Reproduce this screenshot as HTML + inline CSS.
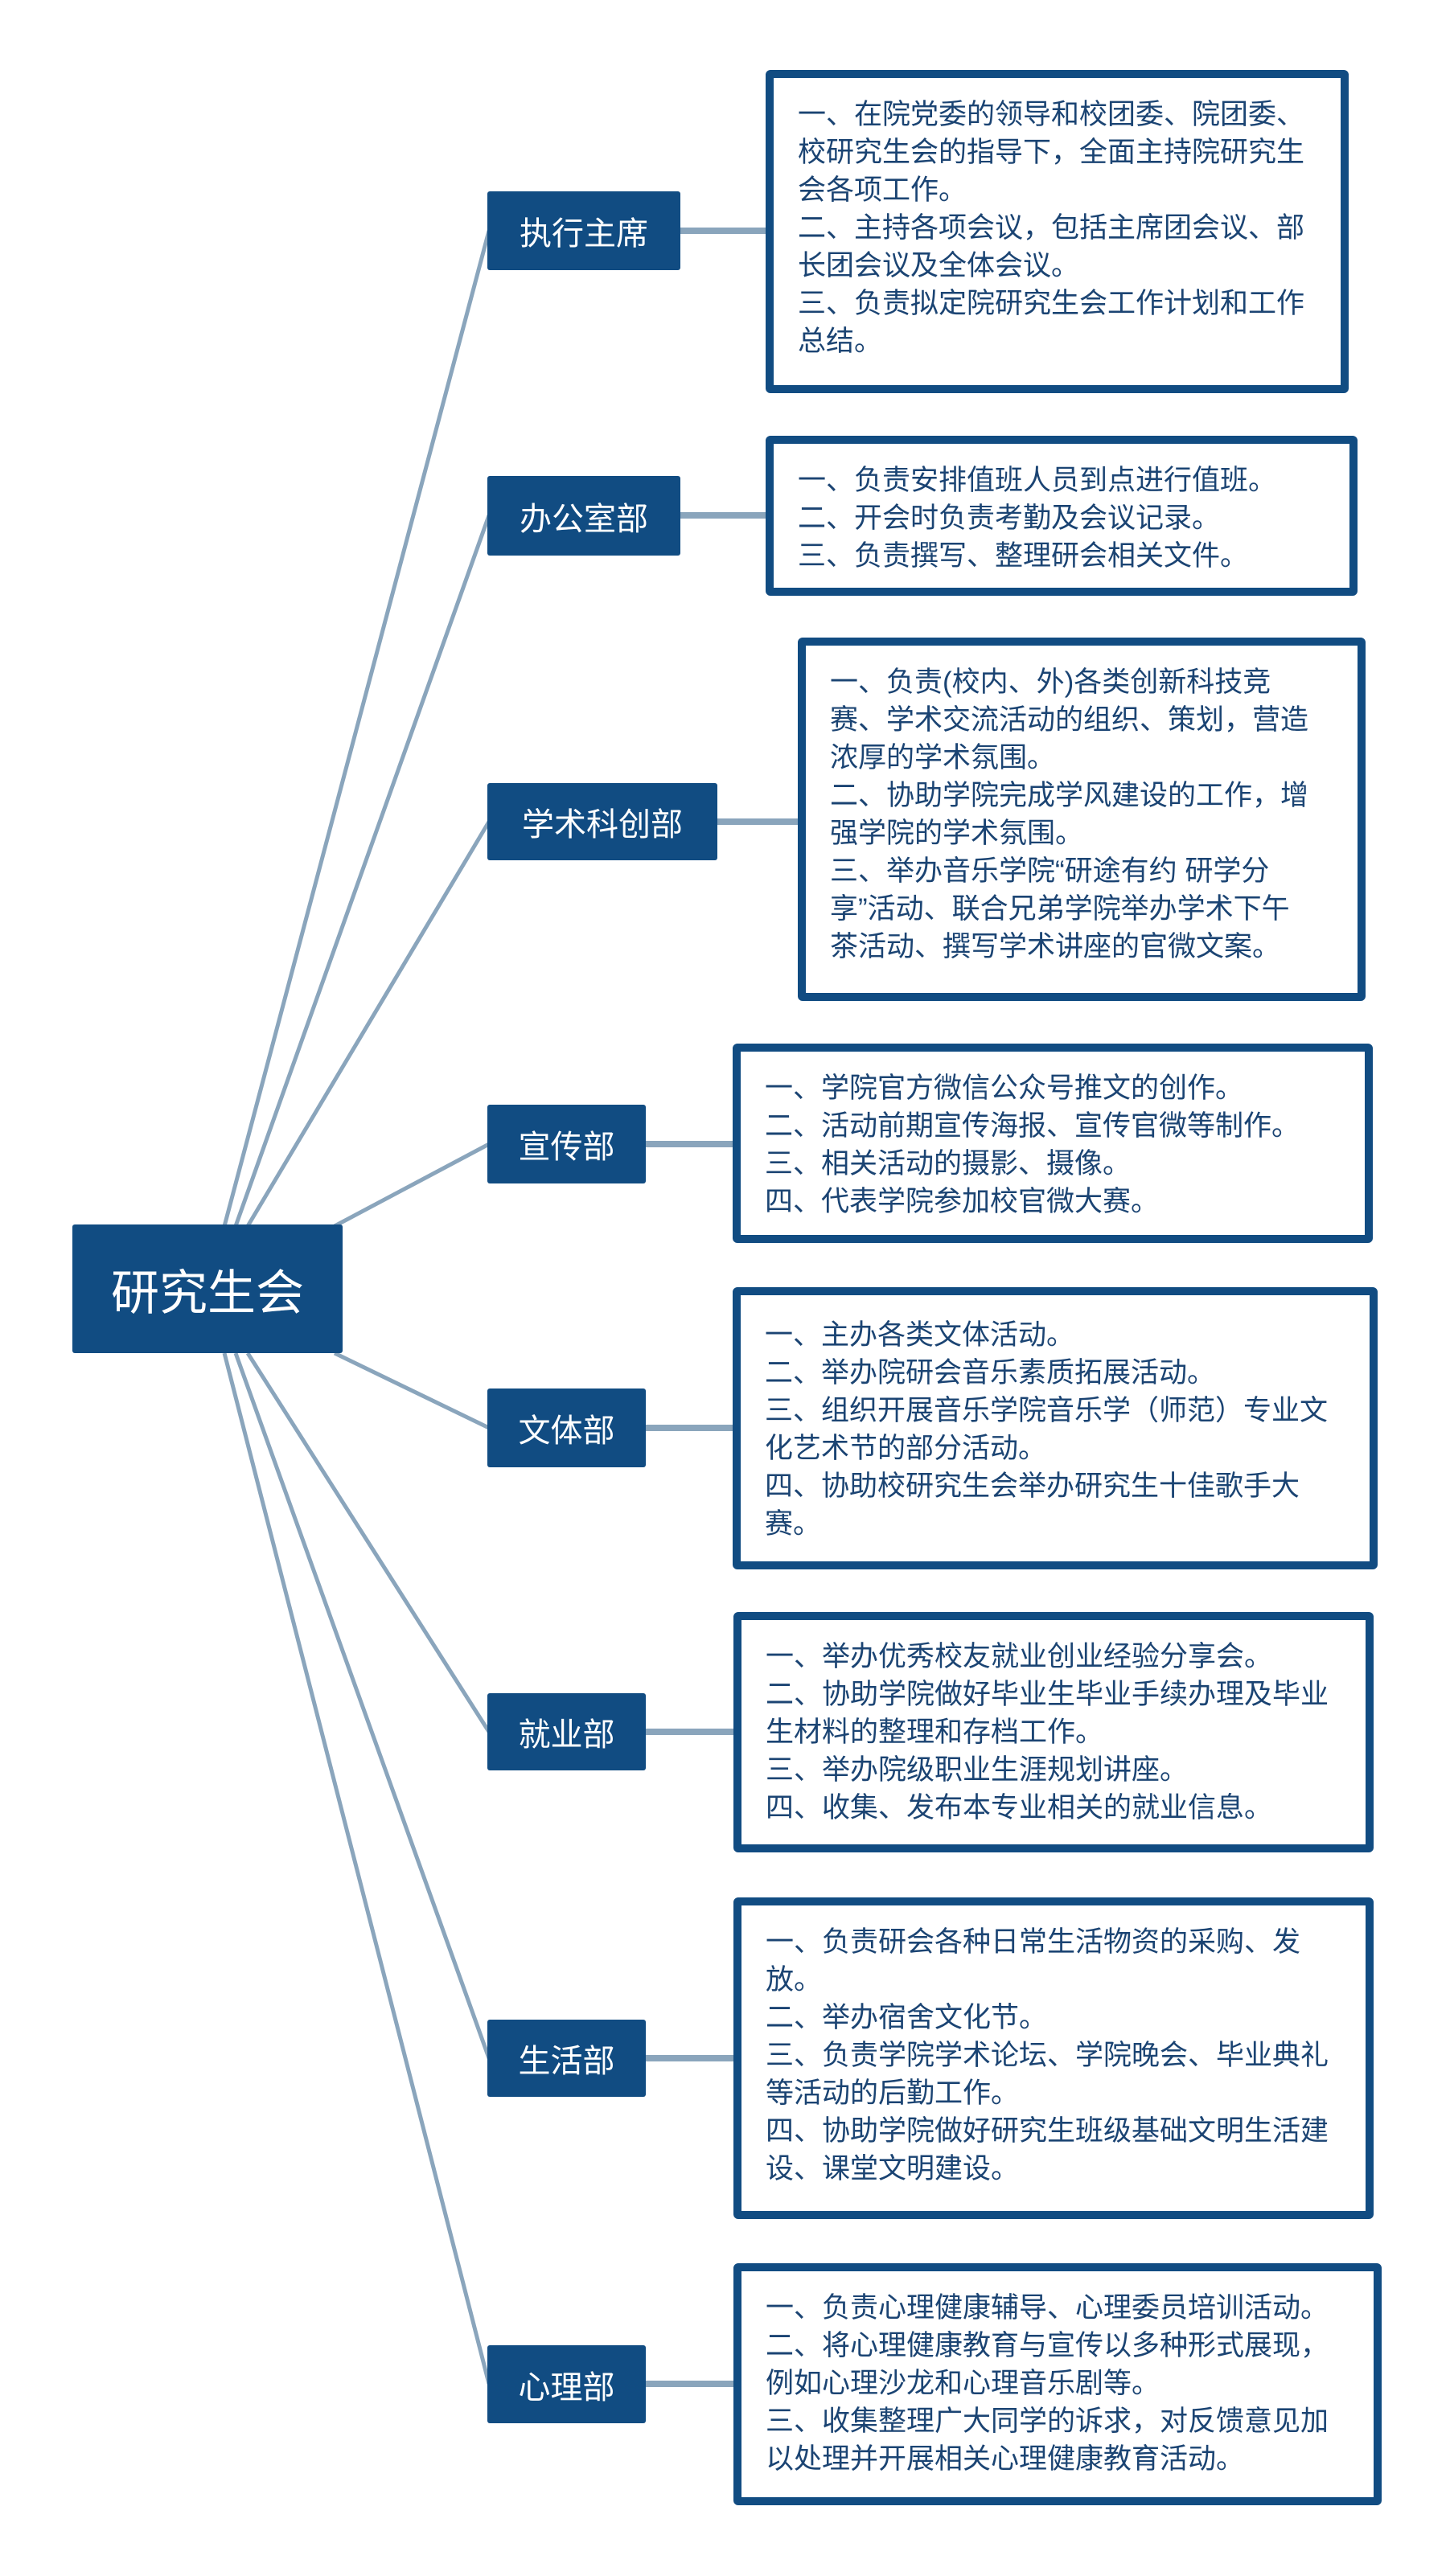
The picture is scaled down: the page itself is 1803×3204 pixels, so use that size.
<!DOCTYPE html>
<html><head><meta charset="utf-8"><style>
body{margin:0;width:1803px;height:3204px;background:#fff;position:relative;overflow:hidden;font-family:"Liberation Sans","Noto Sans CJK SC",sans-serif;}
.n{position:absolute;background:#114c82;color:#fff;display:flex;align-items:center;justify-content:center;font-size:40px;border-radius:3px;}
.b{position:absolute;box-sizing:border-box;border:10px solid #114c82;border-radius:6px;background:#fff;color:#1b4473;font-size:35px;line-height:47px;padding:22px 0 0 30px;white-space:nowrap;}
svg{position:absolute;left:0;top:0;}
</style></head><body>
<svg width="1803" height="3204">
<g stroke="#8aa5bc" stroke-width="5" fill="none">
<line x1="279" y1="1525" x2="608" y2="287"/>
<line x1="293" y1="1525" x2="608" y2="641"/>
<line x1="308" y1="1525" x2="608" y2="1022"/>
<line x1="416" y1="1525" x2="608" y2="1423"/>
<line x1="416" y1="1683" x2="608" y2="1776"/>
<line x1="308" y1="1683" x2="608" y2="2154"/>
<line x1="293" y1="1683" x2="608" y2="2560"/>
<line x1="279" y1="1683" x2="608" y2="2965"/>
</g>
<g stroke="#8aa5bc" stroke-width="8">
<line x1="846" y1="287" x2="955" y2="287"/>
<line x1="846" y1="641" x2="955" y2="641"/>
<line x1="890" y1="1022" x2="995" y2="1022"/>
<line x1="803" y1="1423" x2="914" y2="1423"/>
<line x1="803" y1="1776" x2="914" y2="1776"/>
<line x1="803" y1="2154" x2="914" y2="2154"/>
<line x1="803" y1="2560" x2="914" y2="2560"/>
<line x1="803" y1="2965" x2="914" y2="2965"/>
</g>
</svg>
<div class="n" style="left:90px;top:1523px;width:336px;height:160px;font-size:60px;">研究生会</div>
<div class="n" style="left:606px;top:238px;width:240px;height:98px;">执行主席</div>
<div class="n" style="left:606px;top:592px;width:240px;height:99px;">办公室部</div>
<div class="n" style="left:606px;top:974px;width:286px;height:96px;">学术科创部</div>
<div class="n" style="left:606px;top:1374px;width:197px;height:98px;">宣传部</div>
<div class="n" style="left:606px;top:1727px;width:197px;height:98px;">文体部</div>
<div class="n" style="left:606px;top:2106px;width:197px;height:96px;">就业部</div>
<div class="n" style="left:606px;top:2512px;width:197px;height:96px;">生活部</div>
<div class="n" style="left:606px;top:2917px;width:197px;height:97px;">心理部</div>

<div class="b" style="left:952px;top:87px;width:725px;height:402px;">一、在院党委的领导和校团委、院团委、<br>校研究生会的指导下，全面主持院研究生<br>会各项工作。<br>二、主持各项会议，包括主席团会议、部<br>长团会议及全体会议。<br>三、负责拟定院研究生会工作计划和工作<br>总结。</div>
<div class="b" style="left:952px;top:542px;width:736px;height:199px;">一、负责安排值班人员到点进行值班。<br>二、开会时负责考勤及会议记录。<br>三、负责撰写、整理研会相关文件。</div>
<div class="b" style="left:992px;top:793px;width:706px;height:452px;padding-left:30px;">一、负责(校内、外)各类创新科技竞<br>赛、学术交流活动的组织、策划，营造<br>浓厚的学术氛围。<br>二、协助学院完成学风建设的工作，增<br>强学院的学术氛围。<br>三、举办音乐学院“研途有约 研学分<br>享”活动、联合兄弟学院举办学术下午<br>茶活动、撰写学术讲座的官微文案。</div>
<div class="b" style="left:911px;top:1298px;width:796px;height:248px;">一、学院官方微信公众号推文的创作。<br>二、活动前期宣传海报、宣传官微等制作。<br>三、相关活动的摄影、摄像。<br>四、代表学院参加校官微大赛。</div>
<div class="b" style="left:911px;top:1601px;width:802px;height:351px;padding-top:26px;">一、主办各类文体活动。<br>二、举办院研会音乐素质拓展活动。<br>三、组织开展音乐学院音乐学（师范）专业文<br>化艺术节的部分活动。<br>四、协助校研究生会举办研究生十佳歌手大<br>赛。</div>
<div class="b" style="left:912px;top:2005px;width:796px;height:299px;">一、举办优秀校友就业创业经验分享会。<br>二、协助学院做好毕业生毕业手续办理及毕业<br>生材料的整理和存档工作。<br>三、举办院级职业生涯规划讲座。<br>四、收集、发布本专业相关的就业信息。</div>
<div class="b" style="left:912px;top:2360px;width:796px;height:400px;">一、负责研会各种日常生活物资的采购、发<br>放。<br>二、举办宿舍文化节。<br>三、负责学院学术论坛、学院晚会、毕业典礼<br>等活动的后勤工作。<br>四、协助学院做好研究生班级基础文明生活建<br>设、课堂文明建设。</div>
<div class="b" style="left:912px;top:2815px;width:806px;height:301px;">一、负责心理健康辅导、心理委员培训活动。<br>二、将心理健康教育与宣传以多种形式展现，<br>例如心理沙龙和心理音乐剧等。<br>三、收集整理广大同学的诉求，对反馈意见加<br>以处理并开展相关心理健康教育活动。</div>
</body></html>
